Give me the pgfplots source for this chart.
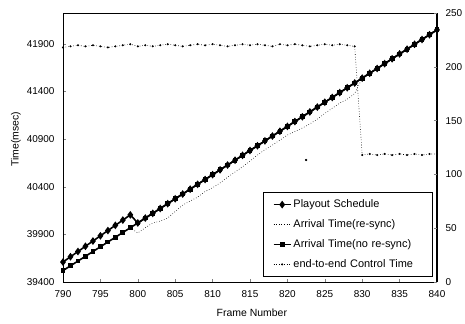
\documentclass[border=0pt]{standalone}
\usepackage{pgfplots}
\pgfplotsset{compat=1.18}
\usepackage{fontspec}
\setmainfont{Liberation Sans}

\begin{document}
\begin{tikzpicture}
\path[use as bounding box] (-63bp,-42bp) rectangle (402bp,282bp);
\begin{axis}[
  at={(0,0)}, anchor=south west,
  scale only axis, width=374bp, height=269bp,
  xmin=790, xmax=840, ymin=39400, ymax=42225,
  xtick={790,795,...,840}, ytick={39400,39900,...,41900},
  xtick pos=left, ytick pos=left, tick align=inside,
  major tick length=3bp,
  scaled ticks=false,
  /pgf/number format/1000 sep={},
  /pgf/number format/assume math mode=true,
  tick label style={font=\fontsize{10}{12}\selectfont},
  xticklabel style={yshift=-5bp},
  yticklabel style={xshift=-5bp},
  axis line style={line width=1pt},
  xlabel={Frame Number}, ylabel={Time(msec)},
  label style={font=\fontsize{10.5}{12}\selectfont},
  xlabel style={at={(axis description cs:0.505,-0.1152)}, anchor=center},
  ylabel style={at={(axis description cs:-0.1257,0.53)}, anchor=center},
  legend style={at={(0.989,0.0186)}, anchor=south east, draw=black, line width=0.8pt,
    font=\fontsize{11}{13}\selectfont, inner xsep=9bp, inner ysep=5.5bp, row sep=6.5bp,
    /tikz/every even column/.append style={text width=128bp}},
  legend cell align=left,
]
% Playout Schedule
\addplot[black, line width=1.6pt, mark=diamond*, mark size=2.6pt] coordinates {
(790,39610) (791,39665) (792,39720) (793,39775) (794,39830) (795,39885)
(796,39940) (797,39995) (798,40050) (799,40105)
(800,40020) (801,40071) (802,40121) (803,40172) (804,40223) (805,40274)
(806,40324) (807,40375) (808,40426) (809,40476) (810,40527) (811,40578)
(812,40628) (813,40679) (814,40730) (815,40781) (816,40831) (817,40882)
(818,40933) (819,40983) (820,41034) (821,41085) (822,41135) (823,41186)
(824,41237) (825,41288) (826,41338) (827,41389) (828,41440) (829,41490)
(830,41541) (831,41592) (832,41642) (833,41693) (834,41744) (835,41795)
(836,41845) (837,41896) (838,41947) (839,41997) (840,42048)
};
\addlegendentry{Playout Schedule}
% Arrival Time (re-sync)
\addplot[black, line width=0.6pt, dotted] coordinates {
(799,39970) (800,39915) (801,39970) (802,40020) (803,40040) (804,40072)
(805,40140) (806,40208) (807,40250) (808,40292) (809,40350) (810,40390)
(811,40440) (812,40500) (813,40555) (814,40610) (815,40670) (816,40733)
(817,40790) (818,40838) (819,40890) (820,40943) (821,40980) (822,41017)
(823,41060) (824,41110) (825,41170) (826,41225) (827,41279) (828,41320)
(829,41380) (830,41541) (831,41592) (832,41642) (833,41693) (834,41744)
(835,41795) (836,41845) (837,41896) (838,41947) (839,41997) (840,42048)
};
\addlegendentry{Arrival Time(re-sync)}
% Arrival Time (no re-sync)
\addplot[black, line width=1.6pt, mark=square*, mark size=1.6pt] coordinates {
(790,39520) (791,39570) (792,39620) (793,39670) (794,39720) (795,39770)
(796,39820) (797,39870) (798,39920) (799,39970)
(800,40020) (801,40071) (802,40121) (803,40172) (804,40223) (805,40274)
(806,40324) (807,40375) (808,40426) (809,40476) (810,40527) (811,40578)
(812,40628) (813,40679) (814,40730) (815,40781) (816,40831) (817,40882)
(818,40933) (819,40983) (820,41034) (821,41085) (822,41135) (823,41186)
(824,41237) (825,41288) (826,41338) (827,41389) (828,41440) (829,41490)
(830,41541) (831,41592) (832,41642) (833,41693) (834,41744) (835,41795)
(836,41845) (837,41896) (838,41947) (839,41997) (840,42048)
};
\addlegendentry{Arrival Time(no re-sync)}
% stray point
\addplot[black, only marks, mark=*, mark size=0.9pt, forget plot] coordinates {(822.5,40681)};
\addlegendimage{black, line width=0.6pt, dotted, mark=*, mark size=0.7pt, mark options={solid}}
\addlegendentry{end-to-end Control Time}
\end{axis}
\begin{axis}[
  at={(0,0)}, anchor=south west,
  scale only axis, width=374bp, height=269bp,
  xmin=790, xmax=840, ymin=0, ymax=250,
  axis x line=none, axis y line*=right,
  ytick={0,50,...,250}, tick align=inside,
  major tick length=3bp,
  /pgf/number format/assume math mode=true,
  tick label style={font=\fontsize{10}{12}\selectfont},
  yticklabel style={xshift=5bp},
  axis line style={line width=1pt},
]
\addplot[black, line width=0.6pt, dotted, mark=*, mark size=0.7pt, mark options={solid}] coordinates {
(790,218) (791,219) (792,220) (793,219) (794,220) (795,219) (796,218) (797,219)
(798,220) (799,221) (800,219) (801,220) (802,219) (803,220) (804,221) (805,220)
(806,219) (807,220) (808,221) (809,220) (810,221) (811,220) (812,219) (813,220)
(814,221) (815,220) (816,221) (817,220) (818,219) (819,221) (820,220) (821,221)
(822,220) (823,219) (824,220) (825,221) (826,220) (827,221) (828,220) (829,219)
(830,118) (831,119) (832,118) (833,119) (834,118) (835,119) (836,118) (837,119)
(838,118) (839,119) (840,119)
};
\end{axis}
\end{tikzpicture}
\end{document}
